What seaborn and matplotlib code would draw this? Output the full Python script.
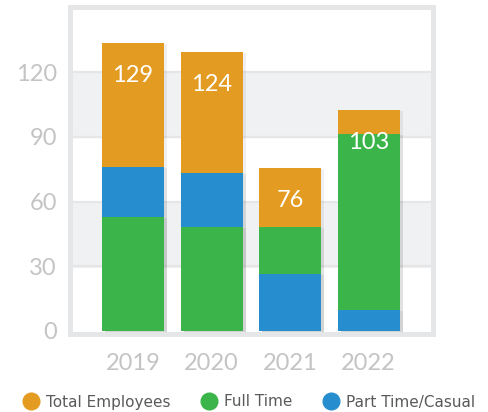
import seaborn as sns
import pandas as pd
import matplotlib.pyplot as plt
import matplotlib.patheffects as pe
from matplotlib.lines import Line2D

# data
years = ["2019", "2020", "2021", "2022"]
full_time = [52.8, 48.2, 21.8, 81.5]
part_time = [23.3, 25.0, 26.4, 9.9]
other = [57.4, 56.1, 27.3, 11.0]          # orange part on top of each bar
total_labels = [129, 124, 76, 103]
part_time_on_bottom = [False, False, True, True]

orange = "#E39C21"
green = "#3BB54A"
blue = "#268ECF"

sns.set_theme(style="white")
plt.rcParams["font.family"] = ["Lato", "DejaVu Sans"]

# cumulative heights, drawn tallest first so the lower parts cover it
rows = []
for i, y in enumerate(years):
    if part_time_on_bottom[i]:
        low, low_c, mid, mid_c = part_time[i], blue, full_time[i], green
    else:
        low, low_c, mid, mid_c = full_time[i], green, part_time[i], blue
    rows.append({"year": y, "layer": 0, "height": low + mid + other[i], "color": orange})
    rows.append({"year": y, "layer": 1, "height": low + mid, "color": mid_c})
    rows.append({"year": y, "layer": 2, "height": low, "color": low_c})
df = pd.DataFrame(rows)

fig = plt.figure(figsize=(4.88, 4.12), dpi=100)
ax = fig.add_axes([69.5 / 488, (412 - 333.5) / 412, 363 / 488, 327 / 412])

# background bands and grid
for lo, hi in [(30, 60), (90, 120)]:
    ax.axhspan(lo, hi, color="#F0F1F3", zorder=0)
for v in [30, 60, 90, 120]:
    ax.axhline(v, color="#E5E6E8", lw=1.6, zorder=0.5)

shadow = [pe.SimplePatchShadow(offset=(2.5, -1), shadow_rgbFace="#000000", alpha=0.06), pe.Normal()]
for layer in [0, 1, 2]:
    d = df[df["layer"] == layer]
    sns.barplot(data=d, x="year", y="height", hue="year", palette=list(d["color"]),
                legend=False, width=0.79, saturation=1, ax=ax, zorder=2,
                linewidth=0, edgecolor="none")
for p in ax.patches:
    p.set_path_effects(shadow)

# total labels near the top of each bar
tops = df[df["layer"] == 0]["height"].tolist()
for i, t in enumerate(total_labels):
    ax.text(i, tops[i] - 15, str(t), color="white", fontsize=17, ha="center", va="center",
            zorder=5)

ax.set_xlim(-0.809, 3.815)
ax.set_ylim(-1.16, 150.4)
ax.set_yticks([0, 30, 60, 90, 120])
ax.set_xlabel("")
ax.set_ylabel("")
ax.tick_params(axis="both", length=0, labelsize=17, labelcolor="#C4C4C4")
ax.tick_params(axis="y", pad=9)
ax.tick_params(axis="x", pad=14)
for s in ax.spines.values():
    s.set_visible(True)
    s.set_color("#E5E6E8")
    s.set_linewidth(3.6)

handles = [Line2D([], [], marker="o", ls="", markersize=12, color=c)
           for c in [orange, green, blue]]
fig.legend(handles, ["Total Employees", "Full Time", "Part Time/Casual"],
           loc="center", bbox_to_anchor=(0.5 + 5 / 488, (412 - 402) / 412), ncol=3, frameon=False,
           prop={"family": "DejaVu Sans", "size": 11}, labelcolor="#5A5A5A",
           handletextpad=0.5, columnspacing=2.0, handlelength=1.0, borderaxespad=0)

fig.savefig("out.png", dpi=100)
